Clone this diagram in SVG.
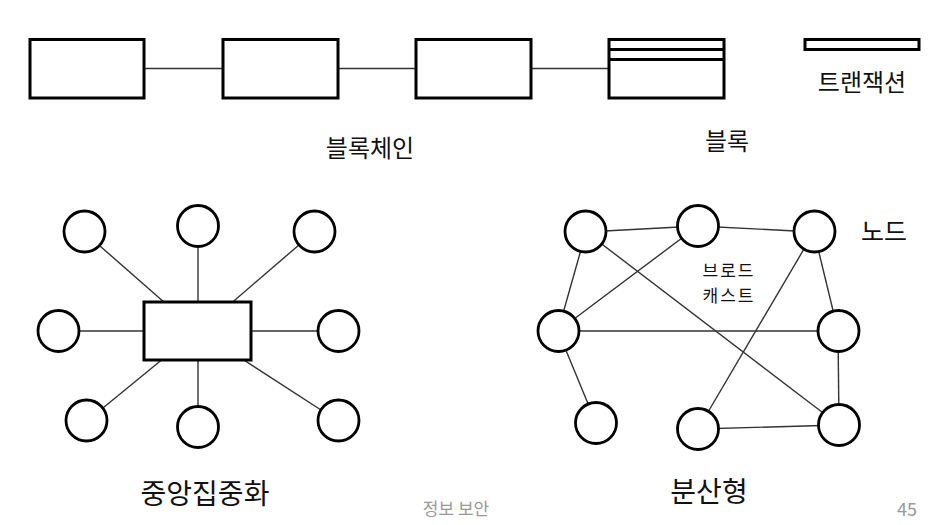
<svg xmlns="http://www.w3.org/2000/svg" width="940" height="525" viewBox="0 0 940 525">
<style>
.box{fill:#fff;stroke:#000;stroke-width:3}
.nd{fill:#fff;stroke:#000;stroke-width:2.8}
.ln{stroke:#333;stroke-width:1.4;fill:none}
.t{font-family:"Noto Sans CJK KR","Noto Sans",sans-serif;fill:#111}
.g{font-family:"Noto Sans CJK KR","Noto Sans",sans-serif;fill:#999}
</style>
<rect width="940" height="525" fill="#fff"/>
<g id="connectors">
<line class="ln" x1="144" y1="68.5" x2="223" y2="68.5"/>
<line class="ln" x1="338" y1="68.5" x2="416" y2="68.5"/>
<line class="ln" x1="531" y1="68.5" x2="609" y2="68.5"/>
<line class="ln" x1="84" y1="232" x2="197" y2="331"/>
<line class="ln" x1="198" y1="226" x2="198" y2="331"/>
<line class="ln" x1="314" y1="232" x2="199" y2="331"/>
<line class="ln" x1="58" y1="331" x2="338" y2="331"/>
<line class="ln" x1="87" y1="421" x2="197" y2="331"/>
<line class="ln" x1="198" y1="427" x2="198" y2="331"/>
<line class="ln" x1="338" y1="421" x2="199" y2="331"/>
<line class="ln" x1="586" y1="232" x2="698" y2="226"/>
<line class="ln" x1="698" y1="226" x2="814" y2="232"/>
<line class="ln" x1="586" y1="232" x2="558" y2="331"/>
<line class="ln" x1="586" y1="232" x2="839" y2="425"/>
<line class="ln" x1="698" y1="226" x2="558" y2="331"/>
<line class="ln" x1="814" y1="232" x2="698" y2="429"/>
<line class="ln" x1="814" y1="232" x2="838" y2="331"/>
<line class="ln" x1="558" y1="331" x2="838" y2="331"/>
<line class="ln" x1="558" y1="331" x2="596" y2="423"/>
<line class="ln" x1="838" y1="331" x2="839" y2="425"/>
<line class="ln" x1="698" y1="429" x2="839" y2="425"/>
</g>
<g id="block1"><rect class="box" x="30" y="39.5" width="114" height="58.5"/></g>
<g id="block2"><rect class="box" x="223" y="39.5" width="115" height="58.5"/></g>
<g id="block3"><rect class="box" x="416" y="39.5" width="115" height="58.5"/></g>
<g id="block4"><rect class="box" x="609" y="39.5" width="115" height="58.5"/><line x1="609" y1="49.5" x2="724" y2="49.5" stroke="#000" stroke-width="3"/><line x1="609" y1="59.5" x2="724" y2="59.5" stroke="#000" stroke-width="3"/></g>
<g id="transaction"><rect class="box" x="805" y="39.5" width="114" height="10"/></g>
<g id="hub"><rect class="box" x="144" y="302" width="107" height="58"/></g>
<g id="c-tl"><circle class="nd" cx="84.5" cy="231.5" r="20.5"/></g>
<g id="c-tm"><circle class="nd" cx="198" cy="226" r="20.5"/></g>
<g id="c-tr"><circle class="nd" cx="314.5" cy="231.5" r="20.5"/></g>
<g id="c-ml"><circle class="nd" cx="58.5" cy="331" r="20.5"/></g>
<g id="c-mr"><circle class="nd" cx="338.5" cy="331" r="20.5"/></g>
<g id="c-bl"><circle class="nd" cx="86.5" cy="420.5" r="20.5"/></g>
<g id="c-bm"><circle class="nd" cx="198" cy="427" r="20.5"/></g>
<g id="c-br"><circle class="nd" cx="338.5" cy="420.5" r="20.5"/></g>
<g id="d-a"><circle class="nd" cx="585.5" cy="231.5" r="20.5"/></g>
<g id="d-b"><circle class="nd" cx="698" cy="226" r="20.5"/></g>
<g id="d-c"><circle class="nd" cx="814.5" cy="231.5" r="20.5"/></g>
<g id="d-d"><circle class="nd" cx="558.5" cy="331" r="20.5"/></g>
<g id="d-e"><circle class="nd" cx="838.5" cy="331" r="20.5"/></g>
<g id="d-f"><circle class="nd" cx="596" cy="423" r="20.5"/></g>
<g id="d-g"><circle class="nd" cx="698" cy="429" r="20.5"/></g>
<g id="d-h"><circle class="nd" cx="839" cy="425" r="20.5"/></g>
<g id="labels">
<text class="t" x="370" y="157" font-size="24" text-anchor="middle">블록체인</text>
<text class="t" x="727" y="150" font-size="24" text-anchor="middle">블록</text>
<text class="t" x="862" y="91" font-size="24" text-anchor="middle">트랜잭션</text>
<text class="t" x="884" y="241" font-size="25" text-anchor="middle">노드</text>
<text class="t" font-size="17" text-anchor="middle" letter-spacing="2"><tspan x="729" y="276.5">브로드</tspan><tspan x="729" y="301.5">캐스트</tspan></text>
<text class="t" x="205" y="504" font-size="28" text-anchor="middle">중앙집중화</text>
<text class="t" x="709" y="502" font-size="28" text-anchor="middle">분산형</text>
<text class="g" x="456" y="515" font-size="17" text-anchor="middle">정보 보안</text>
<text class="g" x="917" y="516" font-size="18" text-anchor="end">45</text>
</g>
</svg>
